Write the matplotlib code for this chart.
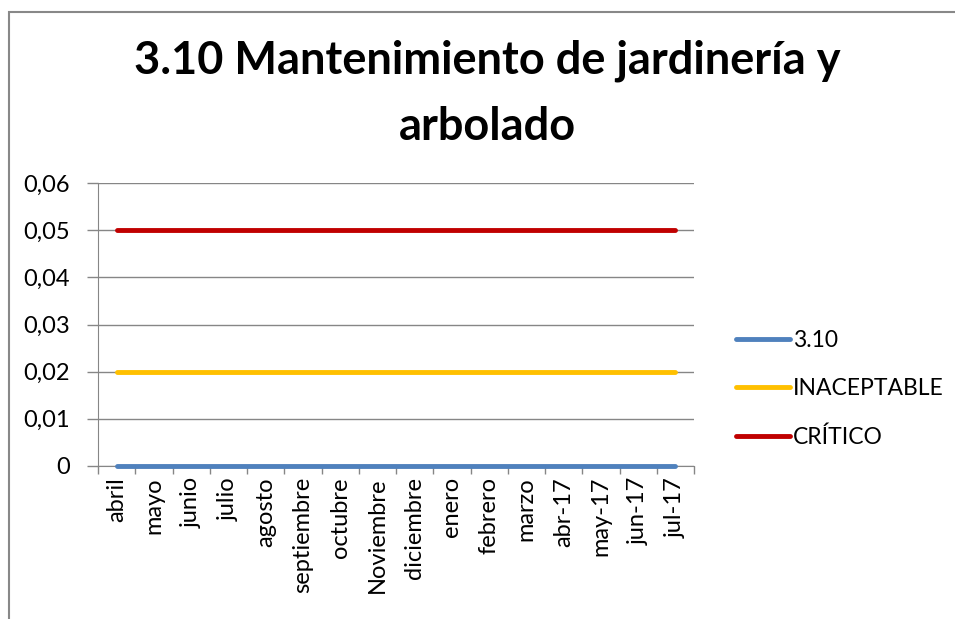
import matplotlib.pyplot as plt
from matplotlib.patches import Rectangle
from matplotlib.ticker import FuncFormatter, FixedLocator

plt.rcParams['font.family'] = ['Lato', 'DejaVu Sans']

meses = ['abril', 'mayo', 'junio', 'julio', 'agosto', 'septiembre', 'octubre',
         'Noviembre', 'diciembre', 'enero', 'febrero', 'marzo', 'abr-17',
         'may-17', 'jun-17', 'jul-17']
serie_310 = [0] * 16
inaceptable = [0.02] * 16
critico = [0.05] * 16

fig = plt.figure(figsize=(9.55, 6.19), dpi=100)
ax = fig.add_axes([98 / 955, 1 - 466 / 619, 596 / 955, 283 / 619])

x = list(range(len(meses)))
ax.plot(x, serie_310, color='#4F81BD', lw=3.5, solid_capstyle='round', label='3.10', clip_on=False, zorder=3)
ax.plot(x, inaceptable, color='#FFC000', lw=3.5, solid_capstyle='round', label='INACEPTABLE')
ax.plot(x, critico, color='#C00000', lw=3.5, solid_capstyle='round', label='CRÍTICO')

ax.set_xlim(-0.5, len(meses) - 0.5)
ax.set_ylim(0, 0.06)
ax.set_yticks([0, 0.01, 0.02, 0.03, 0.04, 0.05, 0.06])
ax.yaxis.set_major_formatter(FuncFormatter(lambda v, p: '0' if v == 0 else f'{v:.2f}'.replace('.', ',')))
ax.grid(axis='y', color='#868686', lw=1)
ax.set_axisbelow(True)

ax.set_xticks(x)
ax.set_xticklabels(meses, rotation=90, fontsize=17)
ax.xaxis.set_minor_locator(FixedLocator([i - 0.5 for i in range(len(meses) + 1)]))
ax.tick_params(axis='x', which='major', length=0, pad=8)
ax.tick_params(axis='x', which='minor', length=6, color='#868686', width=1)
ax.tick_params(axis='y', length=8, color='#868686', width=1, labelsize=17, pad=12)

for s in ['top', 'right']:
    ax.spines[s].set_visible(False)
for s in ['left', 'bottom']:
    ax.spines[s].set_color('#868686')

fig.text(0.51, 1 - 94 / 619, '3.10 Mantenimiento de jardinería y\narbolado',
         ha='center', va='center', fontsize=32.5, fontweight='bold', linespacing=1.72)

fig.legend(loc='center left', bbox_to_anchor=(736 / 955, 1 - 389 / 619), frameon=False,
           fontsize=16.5, handlelength=2.35, handletextpad=0.15, labelspacing=1.2,
           borderpad=0, borderaxespad=0)

fig.patches.append(Rectangle((8.5 / 955, -0.1), 1.2, 1.1 - 12 / 619, transform=fig.transFigure,
                             fill=False, edgecolor='#888888', lw=1.5))

fig.savefig('out.png', dpi=100)
